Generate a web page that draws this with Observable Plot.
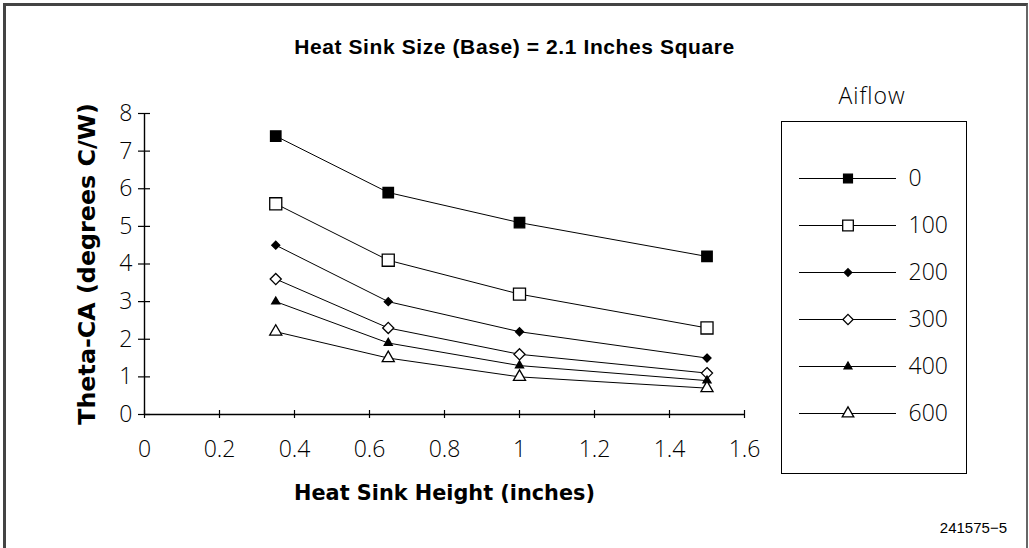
<!DOCTYPE html>
<html>
<head>
<meta charset="utf-8">
<script src="https://cdn.jsdelivr.net/npm/d3@7"></script>
<script src="https://cdn.jsdelivr.net/npm/@observablehq/plot@0.6"></script>
<style>
  html, body { margin: 0; padding: 0; background: #fff; }
  #wrap { position: relative; width: 1029px; height: 548px; overflow: hidden; background: #fff; }
  #frame { position: absolute; left: 3px; top: 3px; width: 1025px; height: 560px; border-left: 3px solid #444; border-top: 3px solid #444; border-right: 2px solid #666; box-sizing: border-box; }
  #title { position: absolute; left: 0; width: 1029px; top: 35px; text-align: center; font: bold 21px "Liberation Sans", Arial, sans-serif; color: #000; letter-spacing: 0.6px; }
  #title span { position: relative; left: 0px; }
  #legendTitle { position: absolute; left: 812px; width: 120px; top: 79px; text-align: center; font: 300 23px "Open Sans", sans-serif; letter-spacing: 1px; color: #000; }
  #legend { position: absolute; left: 781px; top: 121px; width: 186px; height: 353px; border: 1.5px solid #000; box-sizing: border-box; }
  #caption { position: absolute; right: 22px; top: 519px; font: 15px "Liberation Sans", Arial, sans-serif; color: #000; }
  #chart { position: absolute; left: 0; top: 0; }
</style>
</head>
<body>
<div id="wrap">
  <div id="frame"></div>
  <div id="chart"></div>
  <div id="title"><span></span></div>
  <div id="legendTitle">Aiflow</div>
  <div id="legend"></div>
  <div id="caption">241575−5</div>
</div>
<script>
// ---- data ----
const heights = [0.35, 0.65, 1.0, 1.5];
const airflow = ["0", "100", "200", "300", "400", "600"];
const theta0   = [7.4, 5.9, 5.1, 4.2];
const theta100 = [5.6, 4.1, 3.2, 2.3];
const theta200 = [4.5, 3.0, 2.2, 1.5];
const theta300 = [3.6, 2.3, 1.6, 1.1];
const theta400 = [3.0, 1.9, 1.3, 0.9];
const theta600 = [2.2, 1.5, 1.0, 0.7];
const xTicks = [0, 0.2, 0.4, 0.6, 0.8, 1.0, 1.2, 1.4, 1.6];
const yTicks = [0, 1, 2, 3, 4, 5, 6, 7, 8];
const titleText = "Heat Sink Size (Base) = 2.1 Inches Square";
const xLabel = "Heat Sink Height (inches)";
const yLabel = "Theta-CA (degrees C/W)";

document.querySelector("#title span").textContent = titleText;

// ---- styles ----
const symbols = ["square", "square", "diamond2", "diamond2", "triangle", "triangle"];
const fills   = ["black", "white", "black", "white", "black", "white"];
const radii   = [5.9, 6.8, 3.6, 5.0, 3.0, 4.5];

const seriesValues = [theta0, theta100, theta200, theta300, theta400, theta600];
const rows = airflow.flatMap((a, i) => heights.map((h, j) => ({airflow: a, h, t: seriesValues[i][j]})));

const fmt = d3.format("~g");

const chart = Plot.plot({
  width: 1029,
  height: 548,
  marginLeft: 144,
  marginRight: 285,
  marginTop: 113,
  marginBottom: 134,
  style: {background: "transparent", overflow: "visible", color: "#000"},
  x: {domain: [0, 1.6]},
  y: {domain: [0, 8]},
  marks: [
    Plot.ruleX([0], {stroke: "#000", strokeWidth: 1.4}),
    Plot.ruleY([0], {stroke: "#000", strokeWidth: 1.4}),
    // tick marks crossing the axes
    Plot.axisY({ticks: yTicks, tickSize: 12, dx: 6, tickFormat: () => "", label: null, strokeWidth: 1.2}),
    Plot.axisX({ticks: xTicks, tickSize: 8, dy: -4, tickFormat: () => "", label: null, strokeWidth: 1.2}),
    // tick labels
    Plot.axisY({ticks: yTicks, tickSize: 0, tickPadding: 12, tickFormat: fmt, label: null,
      fontSize: 23, fontFamily: "Open Sans", fontWeight: 300}),
    Plot.axisX({ticks: xTicks, tickSize: 0, tickPadding: 26, tickFormat: fmt, label: null,
      fontSize: 23, fontFamily: "Open Sans", fontWeight: 300}),
    // axis titles
    Plot.text([xLabel], {frameAnchor: "bottom", dy: 79, lineAnchor: "middle", fontSize: 20.8, fontWeight: "bold", fontFamily: "DejaVu Sans", text: d => d}),
    Plot.text([yLabel], {frameAnchor: "left", dx: -57, rotate: -90, textAnchor: "middle", lineAnchor: "middle", fontSize: 23.8, fontWeight: "bold", fontFamily: "DejaVu Sans", text: d => d}),
    // data
    Plot.line(rows, {x: "h", y: "t", z: "airflow", stroke: "#000", strokeWidth: 1}),
    ...airflow.map((a, i) => Plot.dot(rows.filter(d => d.airflow === a), {
      x: "h", y: "t", symbol: symbols[i], r: radii[i], fill: fills[i], stroke: "#000", strokeWidth: 1.3
    }))
  ]
});
document.getElementById("chart").append(chart);

// ---- legend ----
const legendRadii = [5.0, 6.0, 3.4, 4.6, 2.9, 4.3];
const legend = Plot.plot({
  width: 183,
  height: 350,
  margin: 0,
  style: {background: "transparent", overflow: "visible"},
  x: {domain: [0, 1], range: [17, 114], axis: null},
  y: {type: "point", domain: airflow, range: [32, 314], axis: null},
  marks: [
    Plot.ruleY(airflow, {y: d => d, x1: 0, x2: 1, stroke: "#000", strokeWidth: 1}),
    ...airflow.map((a, i) => Plot.dot([a], {x: 0.5, y: d => d, symbol: symbols[i], r: legendRadii[i], fill: fills[i], stroke: "#000", strokeWidth: 1.3})),
    Plot.text(airflow, {x: 1, y: d => d, text: d => d, dx: 12, textAnchor: "start", fontSize: 23, fontFamily: "Open Sans", fontWeight: 300, fill: "#000"})
  ]
});
document.getElementById("legend").append(legend);
</script>
</body>
</html>
